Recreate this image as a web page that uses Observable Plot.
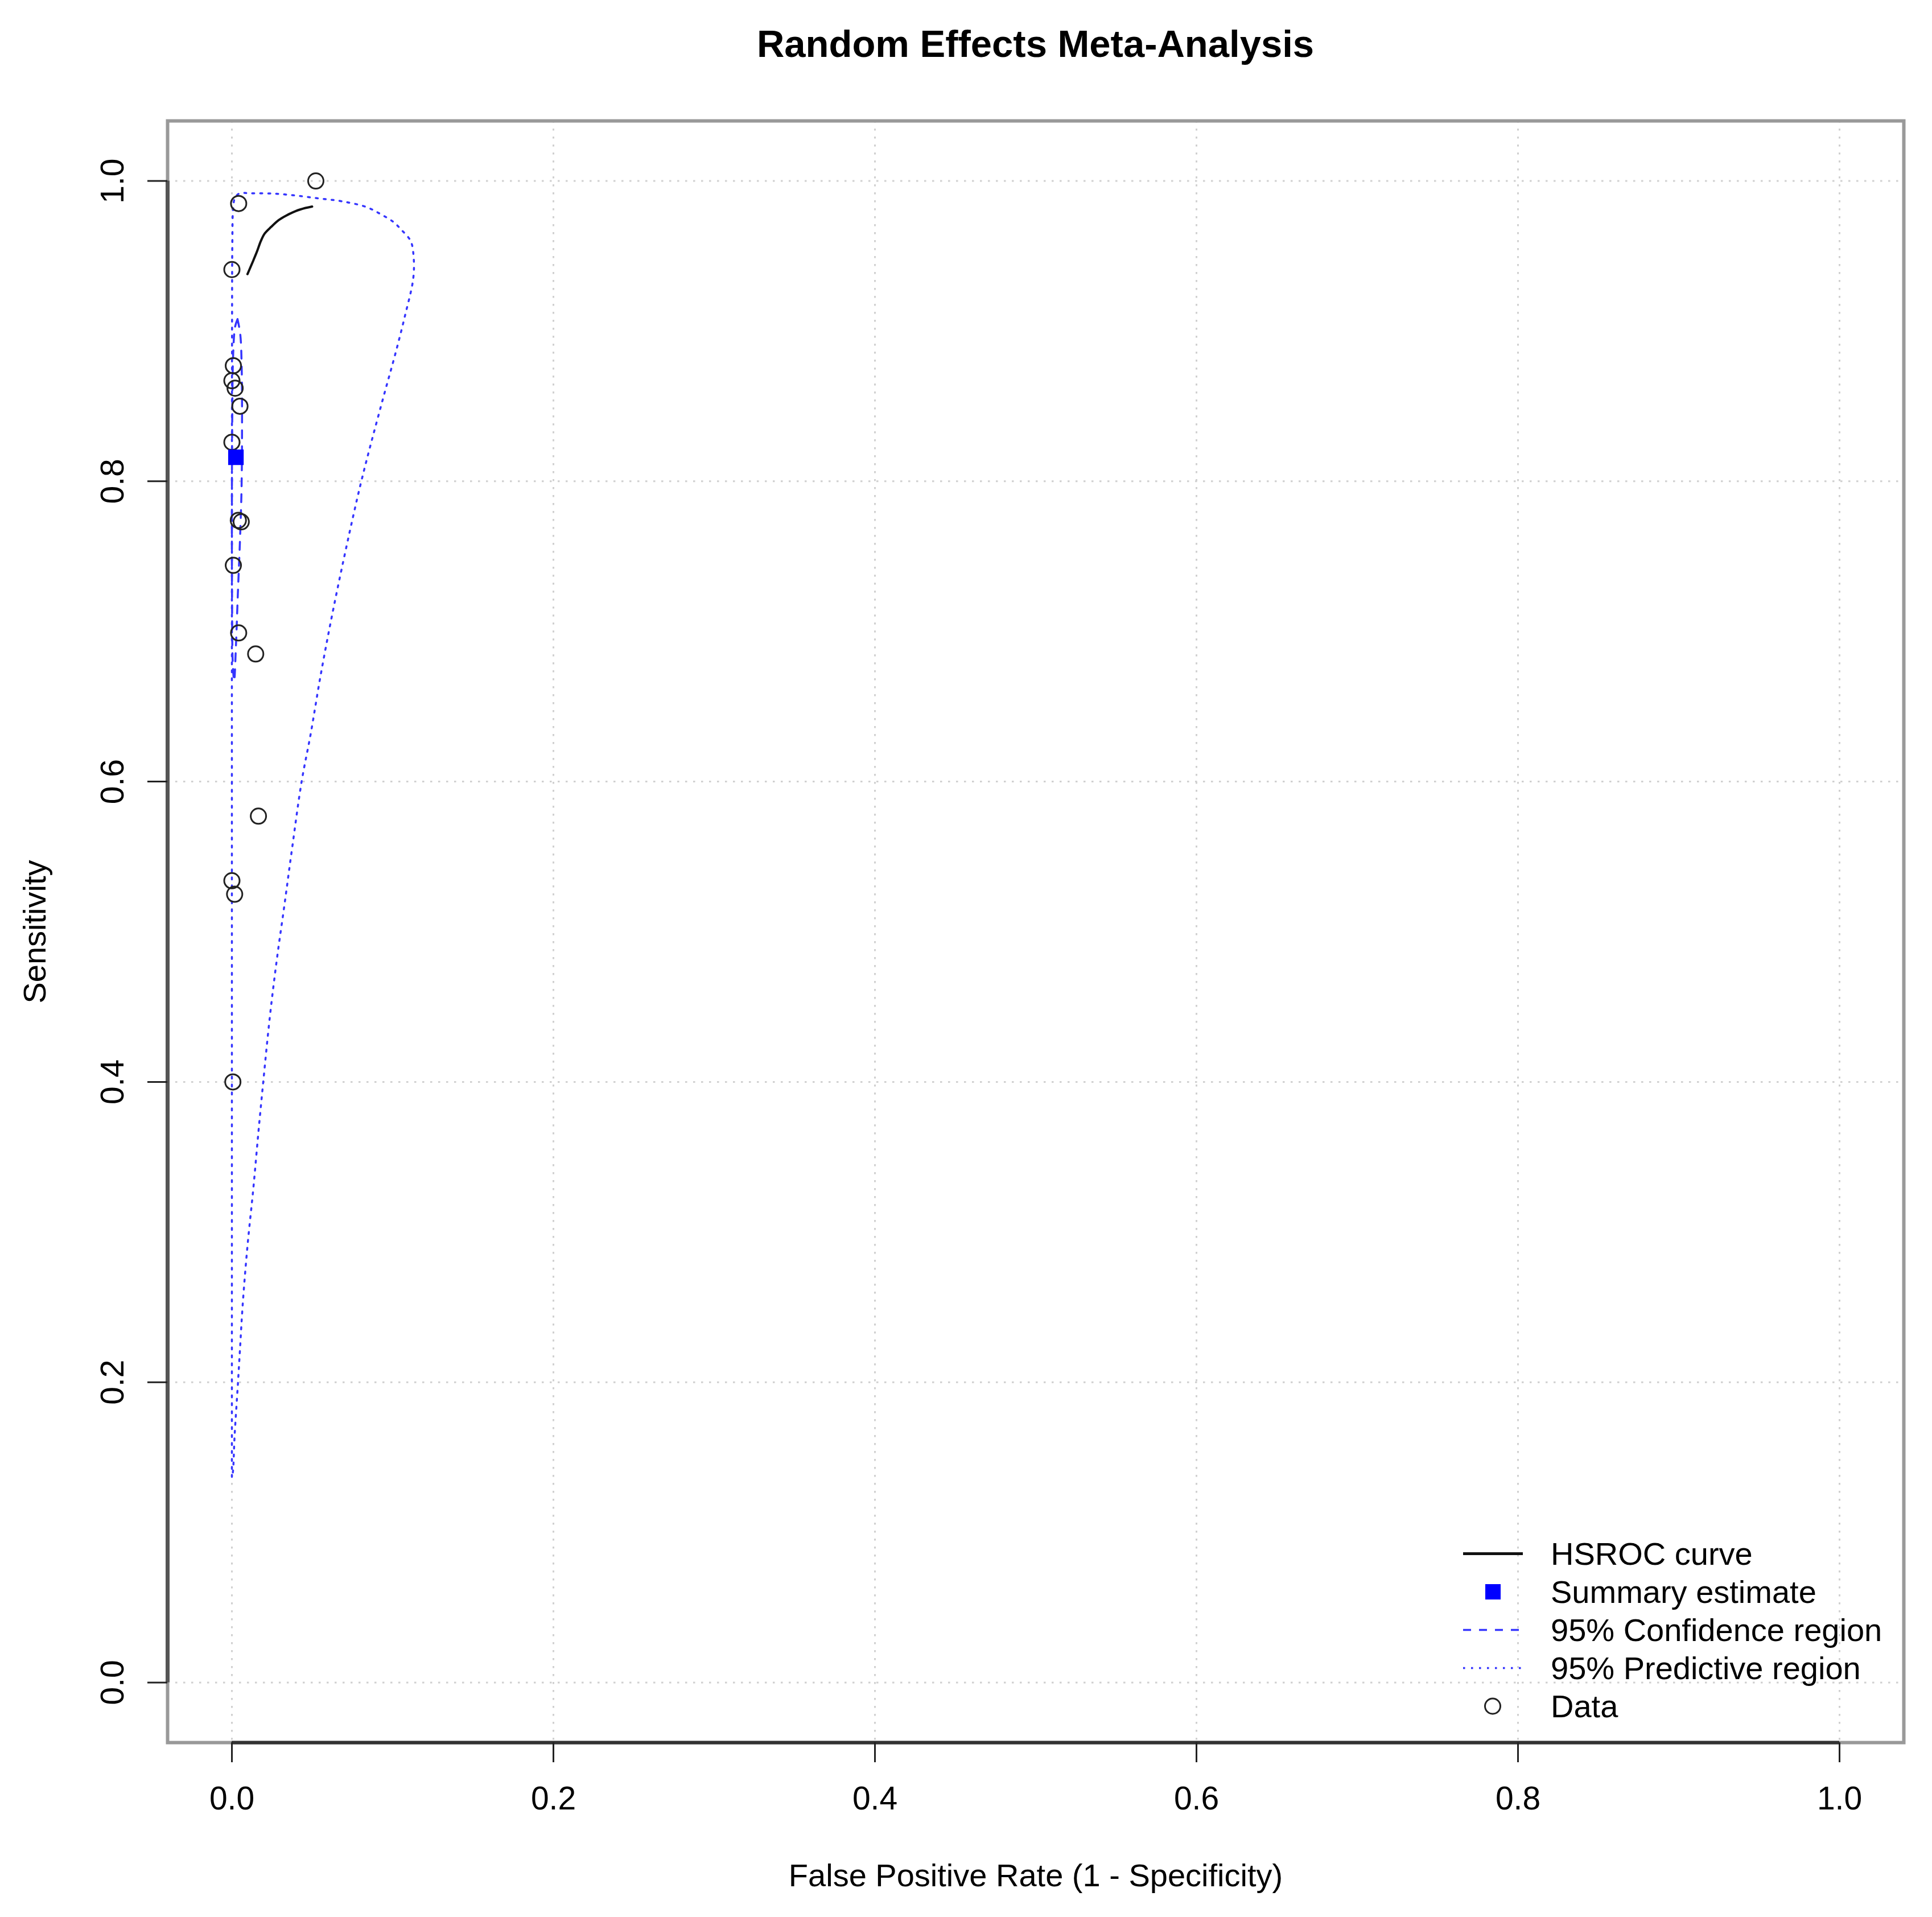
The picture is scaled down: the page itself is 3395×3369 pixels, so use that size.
<!DOCTYPE html>
<html>
<head>
<meta charset="utf-8">
<script src="https://cdn.jsdelivr.net/npm/d3@7"></script>
<script src="https://cdn.jsdelivr.net/npm/@observablehq/plot@0.6"></script>
<style>
html, body { margin: 0; padding: 0; background: #fff; }
body { width: 3395px; height: 3369px; position: relative; overflow: hidden; font-family: "Liberation Sans", Arial, sans-serif; color: #000; }
#title { height: 150px; box-sizing: border-box; padding: 43px 50px 0 294px; line-height: 68px; font-size: 67px; font-weight: bold; text-align: center; }
#legend { position: absolute; left: 2571px; top: 2697px; font-size: 56px; }
.row { position: relative; height: 67px; line-height: 67px; white-space: nowrap; }
.row svg { position: absolute; left: 0; top: 0; }
.row span { margin-left: 154px; }
</style>
</head>
<body>
<div id="title">Random Effects Meta-Analysis</div>
<div id="chart"></div>
<div id="legend"></div>
<script>
// ---- data ----
const xTicks = [0, 0.2, 0.4, 0.6, 0.8, 1.0];
const yTicks = [0, 0.2, 0.4, 0.6, 0.8, 1.0];
const axisPad = 0.04;

// observed studies (FPR, sensitivity)
const dataFpr  = [0.0522, 0.0042, 0.0000, 0.0009, 0.0000, 0.0020, 0.0050, 0.0000, 0.0040, 0.0058, 0.0009, 0.0042, 0.0148, 0.0165, 0.0000, 0.0017, 0.0006];
const dataSens = [1.000, 0.985, 0.941, 0.877, 0.867, 0.862, 0.850, 0.826, 0.774, 0.773, 0.744, 0.699, 0.685, 0.577, 0.534, 0.525, 0.400];

// summary estimate
const summaryFpr  = [0.0025];
const summarySens = [0.816];

// HSROC curve
const hsrocFpr  = [0.0097, 0.0133, 0.0156, 0.0180, 0.0204, 0.0245, 0.0292, 0.0339, 0.0398, 0.0457, 0.0499];
const hsrocSens = [0.938, 0.947, 0.953, 0.960, 0.965, 0.9695, 0.974, 0.977, 0.980, 0.982, 0.983];

// 95% confidence region
const confFpr  = [0.0035, 0.0052, 0.0061, 0.0063, 0.0060, 0.0050, 0.0037, 0.0025, 0.0014, 0.0005, 0.0001, 0.0000, 0.0002, 0.0008, 0.0020, 0.0035];
const confSens = [0.908, 0.898, 0.875, 0.835, 0.795, 0.760, 0.725, 0.690, 0.667, 0.680, 0.720, 0.780, 0.840, 0.885, 0.903, 0.908];

// 95% predictive region
const predFpr  = [0.0000, 0.0000, 0.0000, 0.0000, 0.0001, 0.0003, 0.0008, 0.0020, 0.0050, 0.0115, 0.0257, 0.0398, 0.0540, 0.0682, 0.0835, 0.0929, 0.1006, 0.1053, 0.1112, 0.1130, 0.1128, 0.1075, 0.1015, 0.0950, 0.0855, 0.0805, 0.0768, 0.0690, 0.0617, 0.0550, 0.0490, 0.0434, 0.0375, 0.0327, 0.0278, 0.0235, 0.0195, 0.0165, 0.0133, 0.0097, 0.0068, 0.0050, 0.0038, 0.0017, 0.0006, 0.0000];
const predSens = [0.137, 0.300, 0.500, 0.700, 0.900, 0.960, 0.982, 0.989, 0.9918, 0.9918, 0.9916, 0.9903, 0.9884, 0.9865, 0.9827, 0.9777, 0.9726, 0.9676, 0.960, 0.950, 0.935, 0.9095, 0.8842, 0.859, 0.8211, 0.800, 0.7832, 0.7453, 0.7075, 0.6696, 0.6317, 0.6002, 0.556, 0.518, 0.4803, 0.4423, 0.400, 0.3666, 0.3287, 0.2908, 0.2529, 0.2214, 0.200, 0.1647, 0.140, 0.137];

const toRows = (xs, ys) => xs.map((x, i) => ({x, y: ys[i]}));
const studies = toRows(dataFpr, dataSens);
const summary = toRows(summaryFpr, summarySens);
const hsroc = toRows(hsrocFpr, hsrocSens);
const conf = toRows(confFpr, confSens);
const pred = toRows(predFpr, predSens);

const xDomain = [xTicks[0] - axisPad, xTicks[xTicks.length - 1] + axisPad];
const yDomain = [yTicks[0] - axisPad, yTicks[yTicks.length - 1] + axisPad];
const fmt = d3.format(".1f");
const BLUE_LINE = "#3535ff";

const chart = Plot.plot({
  width: 3395,
  height: 3369 - 150,
  marginTop: 62,
  marginBottom: 307,
  marginLeft: 294,
  marginRight: 50,
  x: {domain: xDomain},
  y: {domain: yDomain},
  style: {fontFamily: "'Liberation Sans', Arial, sans-serif", fontSize: "57px", color: "#000", background: "#fff", overflow: "visible"},
  marks: [
    Plot.gridX(xTicks, {stroke: "#d0d0d0", strokeOpacity: 1, strokeWidth: 3, strokeDasharray: "3.5,10.5"}),
    Plot.gridY(yTicks, {stroke: "#d0d0d0", strokeOpacity: 1, strokeWidth: 3, strokeDasharray: "3.5,10.5"}),
    Plot.frame({stroke: "#999", strokeWidth: 6}),
    Plot.ruleY([yDomain[0]], {x1: xTicks[0], x2: xTicks[xTicks.length - 1], stroke: "#333", strokeWidth: 6}),
    Plot.ruleX([xDomain[0]], {y1: yTicks[0], y2: yTicks[yTicks.length - 1], stroke: "#555", strokeWidth: 7}),
    Plot.axisX(xTicks, {tickSize: 35, tickPadding: 42, tickFormat: fmt, label: null, stroke: "#222", strokeWidth: 3, fontSize: 57}),
    Plot.axisY(yTicks, {tickSize: 35, tickPadding: 43, tickRotate: -90, tickFormat: fmt, label: null, stroke: "#222", strokeWidth: 3, fontSize: 57}),
    Plot.line(pred, {x: "x", y: "y", stroke: BLUE_LINE, strokeWidth: 3.5, strokeDasharray: "3.5,10.5", curve: "catmull-rom"}),
    Plot.line(conf, {x: "x", y: "y", stroke: BLUE_LINE, strokeWidth: 3.5, strokeDasharray: "14,14", curve: "catmull-rom"}),
    Plot.line(hsroc, {x: "x", y: "y", stroke: "#111", strokeWidth: 4, curve: "catmull-rom"}),
    Plot.dot(studies, {x: "x", y: "y", r: 13.5, stroke: "#222", strokeWidth: 3, fill: "none"}),
    Plot.dot(summary, {x: "x", y: "y", symbol: "square", r: 15.4, fill: "#0000ff", stroke: "none"}),
    Plot.text(["False Positive Rate (1 - Specificity)"], {text: d => d, frameAnchor: "bottom", dy: 235, lineAnchor: "middle", textAnchor: "middle", fontSize: 56, fill: "#000"}),
    Plot.text(["Sensitivity"], {text: d => d, frameAnchor: "left", dx: -232, rotate: -90, lineAnchor: "middle", textAnchor: "middle", fontSize: 56, fill: "#000"})
  ]
});
document.getElementById("chart").appendChild(chart);

// ---- legend ----
const legendLabels = ["HSROC curve", "Summary estimate", "95% Confidence region", "95% Predictive region", "Data"];
const legendSwatches = [
  `<line x1="0" x2="105" y1="33.5" y2="33.5" stroke="#111" stroke-width="5"/>`,
  `<rect x="39" y="20" width="27" height="27" fill="#0000ff"/>`,
  `<line x1="0" x2="105" y1="33.5" y2="33.5" stroke="${BLUE_LINE}" stroke-width="3.5" stroke-dasharray="14,14"/>`,
  `<line x1="0" x2="105" y1="33.5" y2="33.5" stroke="${BLUE_LINE}" stroke-width="3.5" stroke-dasharray="3.5,10.5"/>`,
  `<circle cx="52" cy="33.5" r="13.5" fill="none" stroke="#222" stroke-width="3"/>`
];
const legend = document.getElementById("legend");
legendLabels.forEach((lab, i) => {
  const row = document.createElement("div");
  row.className = "row";
  row.innerHTML = `<svg width="105" height="67">${legendSwatches[i]}</svg><span>${lab}</span>`;
  legend.appendChild(row);
});
</script>
</body>
</html>
